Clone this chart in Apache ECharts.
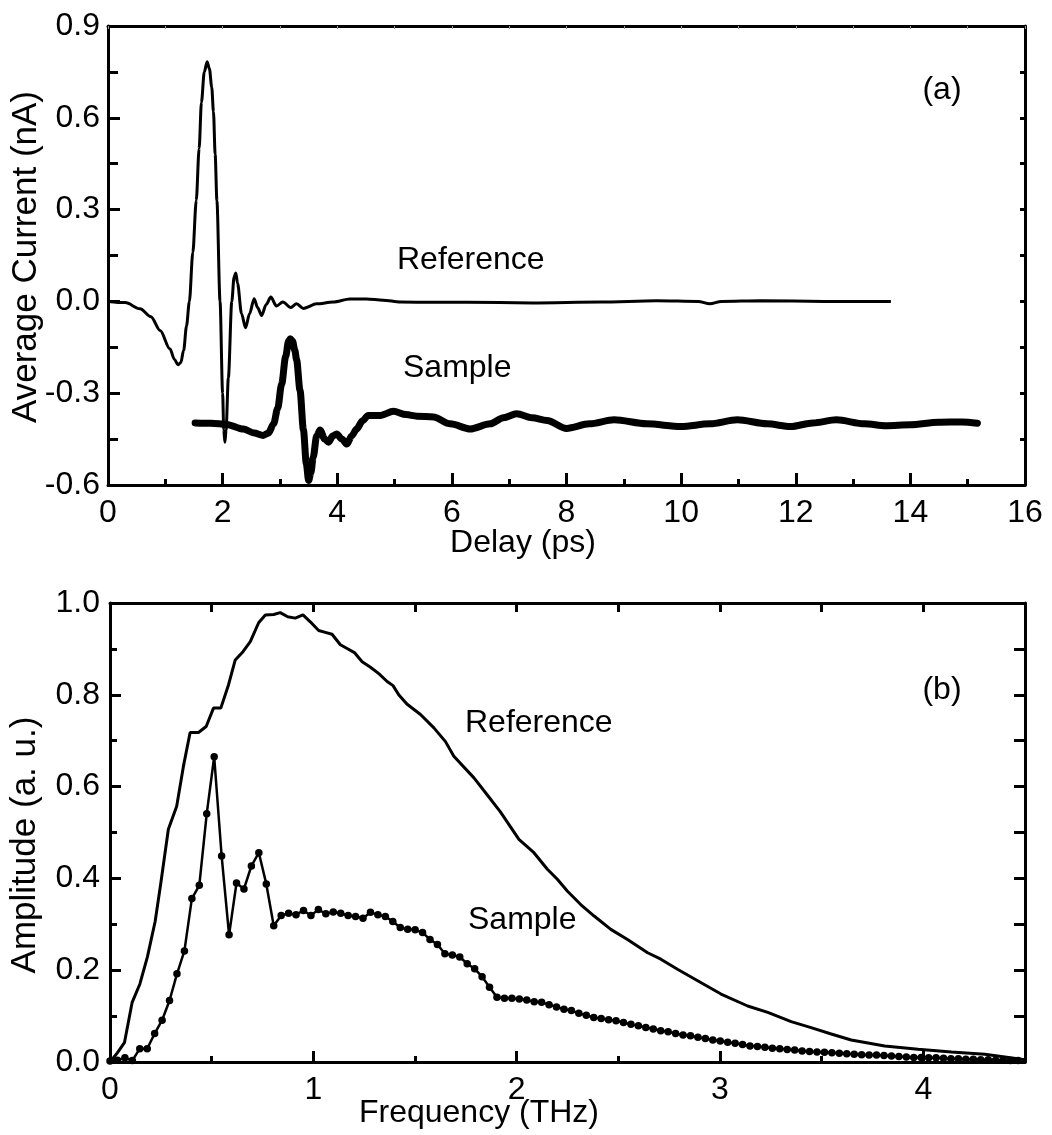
<!DOCTYPE html>
<html>
<head>
<meta charset="utf-8">
<script src="https://cdn.jsdelivr.net/npm/echarts@6/dist/echarts.min.js"></script>
<style>
html,body{margin:0;padding:0;background:#fff;}
#chart{width:1052px;height:1135px;}
</style>
</head>
<body>
<div id="chart"></div>
<script>
// ---------- Panel (a): time domain ----------
const delayTicks = [0, 2, 4, 6, 8, 10, 12, 14, 16];
const currentTicks = [-0.6, -0.3, 0.0, 0.3, 0.6, 0.9];
// Reference waveform [delay ps, current nA]
const refTime = [
  [0,0],[0.3,-0.004],[0.56,-0.024],[0.75,-0.05],[0.91,-0.095],[1.08,-0.155],[1.16,-0.19],[1.22,-0.207],
  [1.27,-0.2],[1.32,-0.16],[1.37,-0.08],[1.42,0.0],[1.48,0.16],[1.54,0.33],[1.59,0.50],[1.63,0.65],[1.68,0.75],
  [1.73,0.783],[1.77,0.76],[1.81,0.70],[1.84,0.62],[1.87,0.48],[1.90,0.33],[1.955,0.0],[2.0,-0.30],
  [2.02,-0.42],[2.04,-0.46],[2.06,-0.42],[2.10,-0.25],[2.16,0.0],[2.20,0.08],[2.23,0.093],[2.26,0.06],
  [2.33,-0.04],[2.40,-0.086],[2.47,-0.04],[2.55,0.009],[2.61,-0.02],[2.68,-0.046],[2.76,-0.01],[2.84,0.014],
  [2.94,-0.015],[3.05,-0.002],[3.19,-0.02],[3.29,-0.008],[3.41,-0.023],[3.64,-0.008],[3.93,-0.002],
  [4.22,0.008],[4.51,0.008],[4.80,0.004],[5.10,-0.002],[5.67,-0.003],[6.26,-0.003],[7.4,-0.005],
  [8.6,-0.002],[9.57,0.002],[10.3,0.0],[10.5,-0.008],[10.7,0.0],[11.4,0.002],[12.5,0.0],[13.66,0.0]
];
// Sample waveform [delay ps, current nA]
const sampleTime = [
  [1.52,-0.397],[1.8,-0.398],[2.07,-0.402],[2.36,-0.417],[2.55,-0.43],[2.71,-0.438],[2.80,-0.43],[2.89,-0.40],
  [2.96,-0.35],[3.03,-0.27],[3.10,-0.18],[3.15,-0.13],[3.18,-0.122],[3.22,-0.13],[3.26,-0.16],[3.29,-0.19],
  [3.35,-0.29],[3.41,-0.42],[3.46,-0.53],[3.50,-0.585],[3.54,-0.56],[3.58,-0.51],[3.64,-0.44],[3.70,-0.42],
  [3.78,-0.45],[3.85,-0.46],[3.92,-0.44],[3.99,-0.433],[4.08,-0.45],[4.17,-0.466],[4.25,-0.44],[4.34,-0.417],
  [4.44,-0.39],[4.54,-0.373],[4.75,-0.373],[4.98,-0.359],[5.20,-0.37],[5.39,-0.375],[5.68,-0.378],[5.97,-0.40],
  [6.32,-0.417],[6.67,-0.40],[6.9,-0.38],[7.13,-0.367],[7.4,-0.38],[7.66,-0.389],[8.0,-0.415],[8.4,-0.40],
  [8.83,-0.387],[9.4,-0.40],[10.0,-0.409],[10.5,-0.40],[10.98,-0.387],[11.5,-0.40],[11.91,-0.409],[12.3,-0.397],
  [12.71,-0.387],[13.2,-0.40],[13.57,-0.406],[14.0,-0.403],[14.49,-0.395],[14.9,-0.394],[15.17,-0.398]
];

// ---------- Panel (b): frequency domain ----------
const freqTicks = [0, 1, 2, 3, 4];
const amplitudeTicks = [0.0, 0.2, 0.4, 0.6, 0.8, 1.0];
// Reference spectrum [THz, a.u.]
const refSpectrum = [
  [0,0],[0.036,0.02],[0.071,0.042],[0.109,0.130],[0.147,0.170],[0.184,0.229],[0.222,0.306],[0.25,0.39],
  [0.287,0.507],[0.328,0.557],[0.361,0.644],[0.394,0.718],[0.435,0.718],[0.473,0.731],[0.509,0.771],
  [0.545,0.771],[0.583,0.822],[0.616,0.876],[0.654,0.894],[0.690,0.916],[0.731,0.957],[0.764,0.974],
  [0.805,0.975],[0.837,0.979],[0.874,0.970],[0.911,0.967],[0.949,0.974],[0.985,0.959],[1.026,0.940],
  [1.059,0.936],[1.092,0.932],[1.133,0.909],[1.166,0.901],[1.202,0.892],[1.240,0.872],[1.281,0.860],
  [1.322,0.846],[1.363,0.829],[1.392,0.820],[1.420,0.800],[1.46,0.78],[1.527,0.757],[1.593,0.728],
  [1.650,0.698],[1.691,0.666],[1.790,0.619],[1.85,0.585],[1.92,0.545],[2.011,0.485],[2.085,0.456],
  [2.151,0.420],[2.20,0.398],[2.25,0.372],[2.315,0.343],[2.381,0.318],[2.463,0.289],[2.545,0.267],
  [2.644,0.238],[2.709,0.224],[2.791,0.202],[2.890,0.177],[3.005,0.148],[3.136,0.122],[3.235,0.108],
  [3.350,0.088],[3.448,0.075],[3.547,0.061],[3.645,0.048],[3.810,0.035],[3.974,0.028],[4.138,0.022],
  [4.302,0.017],[4.5,0.005]
];
// Sample spectrum: FFT bins spaced by freqStep THz, amplitudes read per bin
const freqStep = 0.0366;
const sampleAmp = [
  0.002,0.004,0.009,0.003,0.029,0.029,0.062,0.091,0.134,0.192,
  0.242,0.356,0.385,0.541,0.665,0.449,0.277,0.390,0.377,0.427,
  0.456,0.388,0.297,0.319,0.324,0.321,0.330,0.319,0.332,0.323,
  0.327,0.324,0.319,0.317,0.313,0.326,0.321,0.317,0.306,0.293,
  0.289,0.288,0.282,0.267,0.256,0.236,0.233,0.229,0.214,0.203,
  0.186,0.163,0.141,0.139,0.139,0.137,0.135,0.131,0.130,0.125,
  0.120,0.115,0.112,0.106,0.102,0.097,0.095,0.092,0.090,0.086,
  0.082,0.079,0.075,0.072,0.068,0.066,0.062,0.059,0.057,0.054,
  0.051,0.048,0.046,0.043,0.041,0.038,0.035,0.034,0.032,0.030,
  0.029,0.027,0.026,0.024,0.023,0.022,0.021,0.020,0.019,0.018,
  0.017,0.016,0.015,0.015,0.014,0.013,0.012,0.011,0.010,0.010,
  0.009,0.009,0.008,0.007,0.007,0.006,0.006,0.005,0.005,0.004,
  0.004,0.003,0.003
];

const FONT = '"Liberation Sans", Arial, sans-serif';
const FS = 32;
const FS_Y = 35;
const sampleSpectrum = sampleAmp.map((a, i) => [i * freqStep, a]);

function lbl(show, fmt, margin) {
  return {show: show, color: '#000', fontSize: FS, fontFamily: FONT, margin: margin || 10, formatter: fmt};
}
const line3 = {show: true, onZero: false, lineStyle: {color: '#000', width: 3}};

const chart = echarts.init(document.getElementById('chart'), null, {renderer: 'canvas'});
chart.setOption({
  backgroundColor: '#fff',
  animation: false,
  grid: [
    {left: 108, right: 27, top: 26, height: 459},
    {left: 110, right: 27, top: 603, height: 459}
  ],
  xAxis: [
    {gridIndex: 0, type: 'value', position: 'bottom', min: 0, max: 16, interval: 2,
     axisLine: line3, splitLine: {show: false},
     axisTick: {show: true, inside: true, length: 12, lineStyle: {color: '#000', width: 3}},
     minorTick: {show: true, splitNumber: 2, length: 6, lineStyle: {color: '#000', width: 3}},
     axisLabel: lbl(true, v => String(Math.round(v)), 12)},
    {gridIndex: 0, type: 'value', position: 'top', min: 0, max: 16, interval: 1,
     axisLine: line3, splitLine: {show: false},
     axisTick: {show: true, inside: true, length: 3, lineStyle: {color: '#999', width: 1}},
     axisLabel: {show: false}},
    {gridIndex: 1, type: 'value', position: 'bottom', min: 0, max: 4.5, interval: 0.5,
     axisLine: line3, splitLine: {show: false},
     axisTick: {show: true, inside: true, length: 6, lineStyle: {color: '#000', width: 3}},
     axisLabel: Object.assign(lbl(true, v => (Math.abs(v - Math.round(v)) < 1e-6 ? String(Math.round(v)) : ''), 12), {showMaxLabel: false})},
    {gridIndex: 1, type: 'value', position: 'bottom', min: 0, max: 4.5, interval: 1,
     axisLine: {show: false}, splitLine: {show: false},
     axisTick: {show: true, inside: true, length: 11, lineStyle: {color: '#000', width: 3}},
     axisLabel: {show: false}},
    {gridIndex: 1, type: 'value', position: 'top', min: 0, max: 4.5, interval: 0.5,
     axisLine: line3, splitLine: {show: false},
     axisTick: {show: true, inside: true, length: 9, lineStyle: {color: '#000', width: 3}},
     axisLabel: {show: false}}
  ],
  yAxis: [
    {gridIndex: 0, type: 'value', position: 'left', min: -0.6, max: 0.9, interval: 0.3,
     axisLine: line3, splitLine: {show: false},
     axisTick: {show: true, inside: true, length: 12, lineStyle: {color: '#000', width: 3}},
     minorTick: {show: true, splitNumber: 2, length: 10, lineStyle: {color: '#000', width: 3}},
     axisLabel: lbl(true, v => v.toFixed(1), 8)},
    {gridIndex: 0, type: 'value', position: 'right', min: -0.6, max: 0.9, interval: 0.15,
     axisLine: line3, splitLine: {show: false},
     axisTick: {show: true, inside: true, length: 5, lineStyle: {color: '#000', width: 3}},
     axisLabel: {show: false}},
    {gridIndex: 1, type: 'value', position: 'left', min: 0, max: 1, interval: 0.2,
     axisLine: line3, splitLine: {show: false},
     axisTick: {show: true, inside: true, length: 11, lineStyle: {color: '#000', width: 3}},
     minorTick: {show: true, splitNumber: 2, length: 7, lineStyle: {color: '#000', width: 3}},
     axisLabel: lbl(true, v => v.toFixed(1), 10)},
    {gridIndex: 1, type: 'value', position: 'right', min: 0, max: 1, interval: 0.1,
     axisLine: line3, splitLine: {show: false},
     axisTick: {show: true, inside: true, length: 11, lineStyle: {color: '#000', width: 3}},
     axisLabel: {show: false}}
  ],
  series: [
    {name: 'Reference (a)', type: 'line', xAxisIndex: 0, yAxisIndex: 0, data: refTime,
     showSymbol: false, smooth: 0.3, smoothMonotone: 'x',
     lineStyle: {color: '#000', width: 3}},
    {name: 'Sample (a)', type: 'line', xAxisIndex: 0, yAxisIndex: 0, data: sampleTime,
     showSymbol: false, smooth: 0.3, smoothMonotone: 'x',
     lineStyle: {color: '#000', width: 7, cap: 'round', join: 'round'}},
    {name: 'Reference (b)', type: 'line', xAxisIndex: 2, yAxisIndex: 2, data: refSpectrum,
     showSymbol: false, lineStyle: {color: '#000', width: 3}},
    {name: 'Sample (b)', type: 'line', xAxisIndex: 2, yAxisIndex: 2, data: sampleSpectrum,
     symbol: 'circle', symbolSize: 7.5, showSymbol: true,
     itemStyle: {color: '#000'}, lineStyle: {color: '#000', width: 2.5}}
  ],
  graphic: [
    {type: 'text', x: 523, y: 543, style: {text: 'Delay (ps)', fontSize: FS, fontFamily: FONT, fill: '#000', align: 'center', verticalAlign: 'middle'}},
    {type: 'text', x: 26, y: 257, rotation: Math.PI / 2, style: {text: 'Average Current (nA)', fontSize: FS_Y, fontFamily: FONT, fill: '#000', align: 'center', verticalAlign: 'middle'}},
    {type: 'text', x: 942, y: 90, style: {text: '(a)', fontSize: FS, fontFamily: FONT, fill: '#000', align: 'center', verticalAlign: 'middle'}},
    {type: 'text', x: 397, y: 260, style: {text: 'Reference', fontSize: FS, fontFamily: FONT, fill: '#000', align: 'left', verticalAlign: 'middle'}},
    {type: 'text', x: 403, y: 368, style: {text: 'Sample', fontSize: FS, fontFamily: FONT, fill: '#000', align: 'left', verticalAlign: 'middle'}},
    {type: 'text', x: 479, y: 1113, style: {text: 'Frequency (THz)', fontSize: FS, fontFamily: FONT, fill: '#000', align: 'center', verticalAlign: 'middle'}},
    {type: 'text', x: 25, y: 845, rotation: Math.PI / 2, style: {text: 'Amplitude (a. u.)', fontSize: FS_Y, fontFamily: FONT, fill: '#000', align: 'center', verticalAlign: 'middle'}},
    {type: 'text', x: 942, y: 690, style: {text: '(b)', fontSize: FS, fontFamily: FONT, fill: '#000', align: 'center', verticalAlign: 'middle'}},
    {type: 'text', x: 465, y: 723, style: {text: 'Reference', fontSize: FS, fontFamily: FONT, fill: '#000', align: 'left', verticalAlign: 'middle'}},
    {type: 'text', x: 468, y: 920, style: {text: 'Sample', fontSize: FS, fontFamily: FONT, fill: '#000', align: 'left', verticalAlign: 'middle'}}
  ]
});
</script>
</body>
</html>
